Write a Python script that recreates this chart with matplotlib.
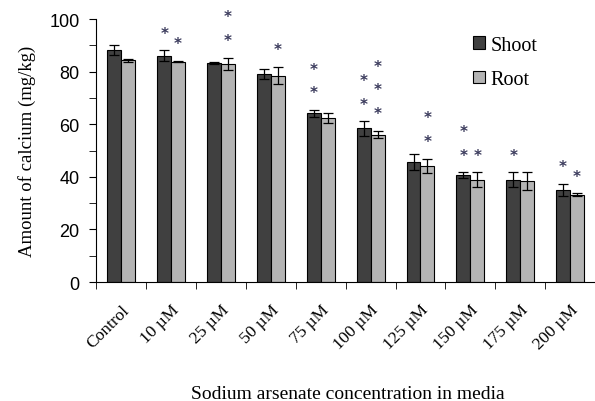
import numpy as np
import matplotlib
matplotlib.use("Agg")
import matplotlib.pyplot as plt
from matplotlib.ticker import MultipleLocator

plt.rcParams['font.family'] = ['Liberation Serif', 'DejaVu Serif']

# Data
categories = ['Control', '10 µM', '25 µM', '50 µM', '75 µM',
              '100 µM', '125 µM', '150 µM', '175 µM', '200 µM']
shoot = [88.2, 86.1, 83.4, 79.1, 64.1, 58.4, 45.7, 40.7, 38.9, 35.0]
shoot_err = [1.8, 2.0, 0.3, 2.0, 1.3, 2.8, 3.0, 1.0, 2.8, 2.3]
root = [84.3, 83.8, 83.0, 78.5, 62.4, 56.1, 44.1, 38.9, 38.4, 33.2]
root_err = [0.5, 0.3, 2.3, 3.3, 1.9, 1.5, 2.8, 2.8, 3.3, 0.6]
# number of significance asterisks above each bar
shoot_stars = [0, 1, 0, 0, 2, 2, 0, 2, 1, 1]
root_stars = [0, 1, 2, 1, 0, 3, 2, 1, 0, 1]

SHOOT_COLOR = '#404040'
ROOT_COLOR = '#b4b4b4'
STAR_COLOR = '#3a3a5c'

fig = plt.figure(figsize=(5.95, 4.02), dpi=100)
ax = fig.add_axes([0.162, 0.296, 0.838, 0.654])

x = np.arange(len(categories))
w = 0.28
ebar = dict(ecolor='black', elinewidth=0.9, capsize=3.5, capthick=0.9)
ax.bar(x - w / 2, shoot, w, color=SHOOT_COLOR, edgecolor='black', linewidth=0.8,
       yerr=shoot_err, error_kw=ebar, label='Shoot')
ax.bar(x + w / 2, root, w, color=ROOT_COLOR, edgecolor='black', linewidth=0.8,
       yerr=root_err, error_kw=ebar, label='Root')

# asterisks: first one a few units above the error bar, then every ~9 units
for xs, vals, errs, nstars in [(x - w / 2, shoot, shoot_err, shoot_stars),
                               (x + w / 2, root, root_err, root_stars)]:
    for xi, v, e, n in zip(xs, vals, errs, nstars):
        for k in range(n):
            ax.text(xi, v + e + 6.5 + 9 * k, '*', ha='center', va='center',
                    fontsize=11, color=STAR_COLOR, family='DejaVu Sans',
                    fontweight='bold')

ax.set_xlim(-0.5, len(categories) - 0.5)
ax.set_ylim(0, 100)
ax.yaxis.set_major_locator(MultipleLocator(20))
ax.yaxis.set_minor_locator(MultipleLocator(10))
ax.set_xticks(x)
ax.set_xticklabels(categories, rotation=45, ha='right', rotation_mode='anchor',
                   fontsize=12.5)
ax.set_xticks(np.arange(-0.5, len(categories) - 0.4, 1), minor=True)
ax.tick_params(axis='x', which='major', length=0, pad=14)
ax.tick_params(axis='x', which='minor', length=5, direction='out')
ax.tick_params(axis='y', which='both', length=5, direction='out', pad=7)
for lbl in ax.get_yticklabels():
    lbl.set_family('Liberation Sans')
    lbl.set_fontsize(13)

for s in ['top', 'right']:
    ax.spines[s].set_visible(False)

ax.set_ylabel('Amount of calcium (mg/kg)', fontsize=13.5, labelpad=10)
fig.text(0.585, 0.008, 'Sodium arsenate concentration in media', ha='center',
         fontsize=14)

ax.legend(loc='upper left', bbox_to_anchor=(0.718, 1.005), frameon=False,
          fontsize=14.5, handlelength=0.6, handleheight=0.6, handletextpad=0.3,
          labelspacing=0.75)

fig.savefig('out.png', dpi=100, facecolor='white')
